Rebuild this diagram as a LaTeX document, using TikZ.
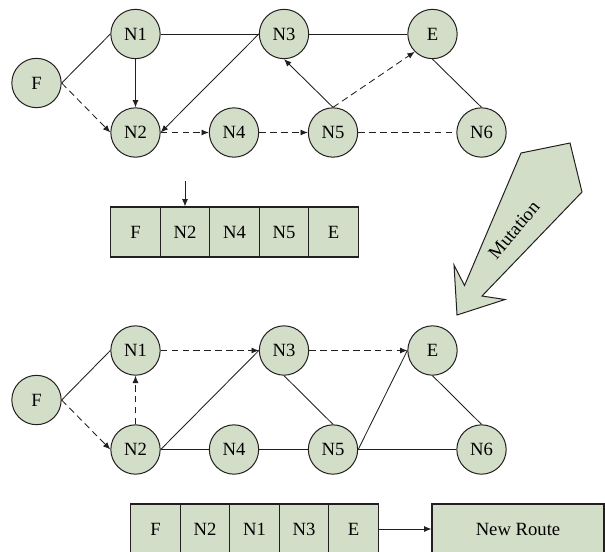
\documentclass[tikz,border=0pt]{standalone}
\usepackage{fontspec}
\setmainfont{Liberation Serif}
\usetikzlibrary{arrows.meta}
\definecolor{nodefill}{RGB}{211,222,200}
\definecolor{ink}{RGB}{35,31,32}
\tikzset{
  lbl/.style={font=\fontsize{14}{16}\selectfont},
  vert/.style={circle, draw=ink, fill=nodefill, line width=0.75pt, minimum size=37pt, inner sep=0pt, lbl},
  cell/.style={rectangle, draw=ink, fill=nodefill, line width=0.85pt, minimum width=37.1pt, minimum height=37.5pt, inner sep=0pt, lbl},
  link/.style={draw=ink, line width=0.65pt},
  dlink/.style={link, dash pattern=on 5pt off 3.2pt},
  arr/.style={-{Latex[length=5.5pt,width=4.5pt]}},
}
\begin{document}
\begin{tikzpicture}[x=0.75pt, y=-0.75pt]
\useasboundingbox (0,0) rectangle (605,551);
% ---------- top graph ----------
\node[vert] (tF)  at (36.5,83)  {F};
\node[vert] (tN1) at (135.5,34) {N1};
\node[vert] (tN3) at (284,34)   {N3};
\node[vert] (tE)  at (432.5,34) {E};
\node[vert] (tN2) at (135.5,132.5) {N2};
\node[vert] (tN4) at (234,132.5) {N4};
\node[vert] (tN5) at (333,132.5) {N5};
\node[vert] (tN6) at (481.5,132.5) {N6};
\draw[link] (tF.east) -- (tN1.west);
\draw[dlink,arr] (tF.east) -- (tN2.west);
\draw[link,arr] (tN1.south) -- (tN2.north);
\draw[link] (tN1.east) -- (tN3.west);
\draw[link,arr] (tN3.west) -- (tN2.east);
\draw[dlink,arr] (tN2.east) -- (tN4.west);
\draw[dlink,arr] (tN4.east) -- (tN5.west);
\draw[link,arr] (tN5.north) -- (tN3.south);
\draw[link] (tN3.east) -- (tE.west);
\draw[dlink,arr] (tN5.north) -- (tE.south west);
\draw[link] (tE.south) -- (tN6.north);
\draw[dlink] (tN5.east) -- (tN6.west);
% ---------- top chromosome ----------
\node[cell] (a1) at (135.5,232) {F};
\node[cell] (a2) at (185,232) {N2};
\node[cell] (a3) at (234.5,232) {N4};
\node[cell] (a4) at (284,232) {N5};
\node[cell] (a5) at (333.5,232) {E};
\coordinate (ptr) at (185,181);
\draw[link,arr] (ptr) -- (a2.north);
% ---------- mutation arrow ----------
\draw[draw=ink, fill=nodefill, line width=0.75pt, line join=miter]
  (521,153) -- (570,143) -- (582,192) -- (482,296) -- (505,299.5)
  -- (457,315) -- (454,265) -- (464.5,285.5) -- cycle;
\node[rotate=50, lbl] (mut) at (514,230) {Mutation};
% ---------- bottom graph ----------
\node[vert] (bF)  at (36.5,400) {F};
\node[vert] (bN1) at (135.5,350.5) {N1};
\node[vert] (bN3) at (284,350.5) {N3};
\node[vert] (bE)  at (432.5,350.5) {E};
\node[vert] (bN2) at (135.5,449.5) {N2};
\node[vert] (bN4) at (234,449.5) {N4};
\node[vert] (bN5) at (333,449.5) {N5};
\node[vert] (bN6) at (481.5,449.5) {N6};
\draw[link] (bF.east) -- (bN1.west);
\draw[dlink,arr] (bF.east) -- (bN2.west);
\draw[dlink,arr] (bN2.north) -- (bN1.south);
\draw[link] (bN2.east) -- (bN3.west);
\draw[dlink,arr] (bN1.east) -- (bN3.west);
\draw[link] (bN3.south) -- (bN5.north);
\draw[link] (bN5.east) -- (bE.west);
\draw[dlink,arr] (bN3.east) -- (bE.west);
\draw[link] (bE.south) -- (bN6.north);
\draw[link] (bN2.east) -- (bN4.west);
\draw[link] (bN4.east) -- (bN5.west);
\draw[link] (bN5.east) -- (bN6.west);
% ---------- bottom chromosome ----------
\node[cell, minimum width=37.2pt] (b1) at (155.5,529) {F};
\node[cell, minimum width=37.2pt] (b2) at (205,529) {N2};
\node[cell, minimum width=37.2pt] (b3) at (254.5,529) {N1};
\node[cell, minimum width=37.2pt] (b4) at (304,529) {N3};
\node[cell, minimum width=37.2pt] (b5) at (353.5,529) {E};
\node[cell, minimum width=129pt] (nr) at (518,529) {New Route};
\draw[link,arr] (b5.east) -- (nr.west);
\end{tikzpicture}
\end{document}
